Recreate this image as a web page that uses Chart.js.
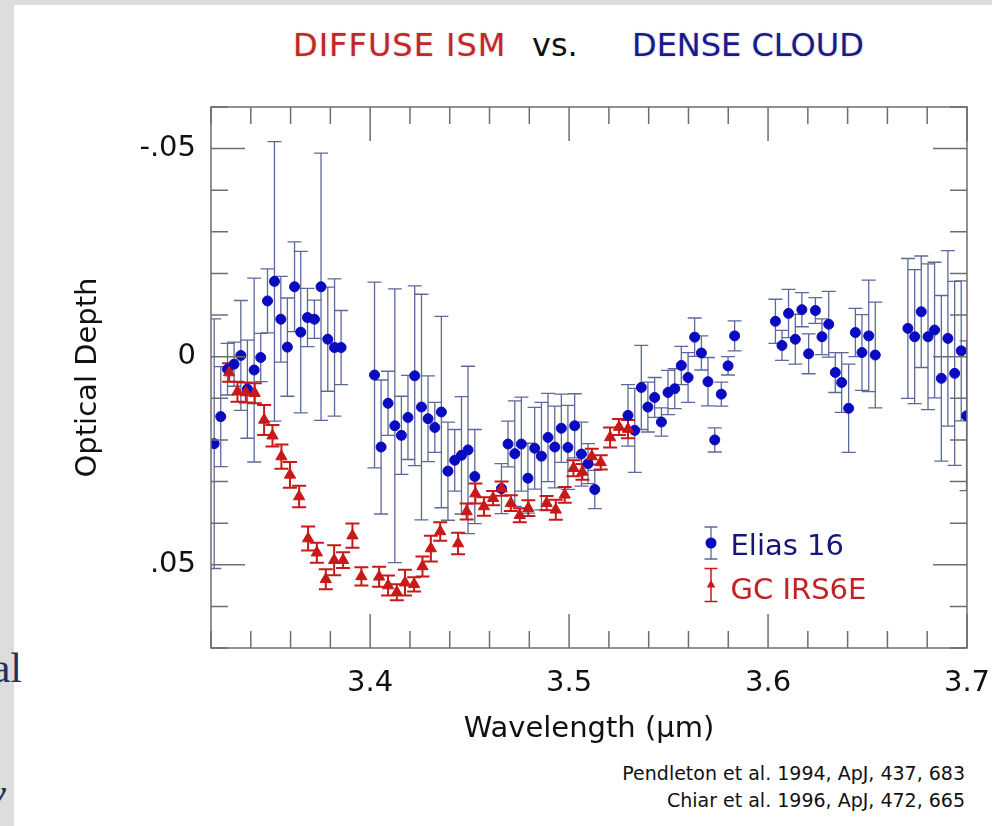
<!DOCTYPE html>
<html>
<head>
<meta charset="utf-8">
<script src="https://cdn.jsdelivr.net/npm/chart.js@4.4.1/dist/chart.umd.min.js"></script>
<style>
  html, body { margin: 0; padding: 0; }
  body { width: 992px; height: 826px; background: #dddddd; position: relative; overflow: hidden; font-family: "DejaVu Sans", sans-serif; }
  #sheet { position: absolute; left: 14px; top: 5px; right: 0; bottom: 0; background: #fff; }
  #chart { position: absolute; left: 0; top: 0; }
  .head { position: absolute; top: 29px; font-size: 32px; line-height: 1; white-space: nowrap; }
  .cite { position: absolute; right: 27px; font-size: 19px; line-height: 1; color: #111; white-space: nowrap; }
  .edge { position: absolute; right: 970px; font-family: "Liberation Serif", serif; color: #1f2f5f; font-size: 42px; line-height: 1; white-space: nowrap; }
</style>
</head>
<body>
<div id="sheet"></div>
<div class="edge" style="top:647px">al</div>
<div class="edge" style="top:772px; right:986px; font-style:italic">y</div>

<div class="head" style="left:293px; letter-spacing:1px; color:#c0282c; text-shadow:0 0 2px rgba(200,40,40,.35)">DIFFUSE ISM</div>
<div class="head" style="left:532px; color:#111">vs.</div>
<div class="head" style="left:632px; color:#1a1a8a; text-shadow:0 0 2px rgba(30,30,140,.3)">DENSE CLOUD</div>

<div class="cite" style="top:764px">Pendleton et al. 1994, ApJ, 437, 683</div>
<div class="cite" style="top:791px">Chiar et al. 1996, ApJ, 472, 665</div>

<canvas id="chart" width="992" height="826"></canvas>

<script>
// Elias 16 (dense cloud)
const eliasWave = [
  3.3216, 3.3249, 3.3283, 3.3316, 3.3350, 3.3383, 3.3417, 3.3450, 3.3484, 3.3519,
  3.3551, 3.3584, 3.3620, 3.3651, 3.3685, 3.3720, 3.3753, 3.3787, 3.3821, 3.3854,
  3.4022, 3.4055, 3.4090, 3.4124, 3.4157, 3.4190, 3.4224, 3.4258, 3.4291, 3.4325,
  3.4358, 3.4391, 3.4425, 3.4459, 3.4492, 3.4526, 3.4660, 3.4693, 3.4727, 3.4760,
  3.4793, 3.4827, 3.4861, 3.4894, 3.4928, 3.4961, 3.4994, 3.5028, 3.5062, 3.5095, 3.5129,
  3.5296, 3.5330, 3.5363, 3.5396, 3.5430, 3.5464, 3.5497, 3.5531, 3.5564, 3.5598,
  3.5631, 3.5665, 3.5698, 3.5732, 3.5765, 3.5799, 3.5832,
  3.6037, 3.6070, 3.6103, 3.6137, 3.6170, 3.6204, 3.6238, 3.6271, 3.6305, 3.6338,
  3.6370, 3.6405, 3.6439, 3.6472, 3.6506, 3.6539,
  3.6703, 3.6737, 3.6770, 3.6804, 3.6837, 3.6871, 3.6904, 3.6938, 3.6971, 3.6998
];
const eliasDepth = [
  0.0209, 0.0144, 0.0030, 0.0018, -0.0003, 0.0078, 0.0032, 0.0002, -0.0134, -0.0181,
  -0.0090, -0.0023, -0.0168, -0.0059, -0.0094, -0.0090, -0.0168, -0.0042, -0.0022, -0.0022,
  0.0044, 0.0217, 0.0112, 0.0166, 0.0189, 0.0146, 0.0046, 0.0121, 0.0149, 0.0170,
  0.0133, 0.0275, 0.0249, 0.0237, 0.0224, 0.0288, 0.0317, 0.0210, 0.0233, 0.0210,
  0.0292, 0.0220, 0.0239, 0.0194, 0.0217, 0.0172, 0.0218, 0.0166, 0.0234, 0.0257, 0.0319,
  0.0141, 0.0177, 0.0074, 0.0121, 0.0098, 0.0157, 0.0086, 0.0077, 0.0021, 0.0050,
  -0.0047, -0.0009, 0.0060, 0.0200, 0.0090, 0.0022, -0.0050,
  -0.0085, -0.0027, -0.0104, -0.0042, -0.0113, -0.0007, -0.0111, -0.0048, -0.0078, 0.0038,
  0.0062, 0.0124, -0.0058, -0.0010, -0.0050, -0.0004,
  -0.0068, -0.0048, -0.0108, -0.0048, -0.0064, 0.0052, -0.0044, 0.0040, -0.0014, 0.0142
];
const eliasErr = [
  0.0300, 0.0120, 0.0062, 0.0053, 0.0132, 0.0118, 0.0221, 0.0058, 0.0077, 0.0336,
  0.0103, 0.0118, 0.0108, 0.0194, 0.0070, 0.0046, 0.0321, 0.0125, 0.0165, 0.0089,
  0.0223, 0.0161, 0.0077, 0.0329, 0.0094, 0.0101, 0.0216, 0.0271, 0.0103, 0.0060,
  0.0230, 0.0118, 0.0074, 0.0141, 0.0201, 0.0113, 0.0060, 0.0055, 0.0127, 0.0113,
  0.0084, 0.0098, 0.0129, 0.0106, 0.0098, 0.0082, 0.0101, 0.0077, 0.0077, 0.0048, 0.0046,
  0.0074, 0.0101, 0.0101, 0.0060, 0.0048, 0.0034, 0.0053, 0.0048, 0.0046, 0.0060,
  0.0046, 0.0041, 0.0058, 0.0029, 0.0029, 0.0022, 0.0036,
  0.0053, 0.0036, 0.0058, 0.0060, 0.0041, 0.0048, 0.0031, 0.0043, 0.0079, 0.0048,
  0.0072, 0.0106, 0.0058, 0.0091, 0.0134, 0.0127,
  0.0168, 0.0161, 0.0134, 0.0175, 0.0163, 0.0199, 0.0211, 0.0221, 0.0168, 0.0180
];

// GC IRS6E (diffuse ISM)
const irsWave = [
  3.3291, 3.3333, 3.3375, 3.3420, 3.3467, 3.3509, 3.3554, 3.3597, 3.3643, 3.3688,
  3.3732, 3.3777, 3.3819, 3.3864, 3.3911, 3.3956, 3.4045, 3.4090, 3.4134, 3.4175,
  3.4221, 3.4263, 3.4305, 3.4352, 3.4442, 3.4485, 3.4529, 3.4572, 3.4618, 3.4661,
  3.4707, 3.4752, 3.4795, 3.4887, 3.4933, 3.4978, 3.5022, 3.5067, 3.5114, 3.5159,
  3.5206, 3.5251, 3.5296
];
const irsDepth = [
  0.0038, 0.0084, 0.0086, 0.0088, 0.0152, 0.0190, 0.0240, 0.0284, 0.0336, 0.0437,
  0.0471, 0.0535, 0.0489, 0.0489, 0.0430, 0.0528, 0.0529, 0.0550, 0.0566, 0.0543,
  0.0547, 0.0504, 0.0461, 0.0420, 0.0449, 0.0372, 0.0329, 0.0360, 0.0340, 0.0317,
  0.0352, 0.0381, 0.0364, 0.0352, 0.0368, 0.0332, 0.0268, 0.0277, 0.0240, 0.0254,
  0.0194, 0.0169, 0.0174
];
const irsErr = [
  0.0022, 0.0024, 0.0024, 0.0024, 0.0036, 0.0026, 0.0029, 0.0031, 0.0026, 0.0029,
  0.0024, 0.0024, 0.0036, 0.0019, 0.0029, 0.0022, 0.0024, 0.0024, 0.0019, 0.0031,
  0.0017, 0.0024, 0.0031, 0.0022, 0.0026, 0.0019, 0.0024, 0.0022, 0.0017, 0.0017,
  0.0019, 0.0017, 0.0019, 0.0017, 0.0024, 0.0019, 0.0019, 0.0019, 0.0019, 0.0017,
  0.0024, 0.0019, 0.0022
];

// labelled ticks
const waveLabels = [3.4, 3.5, 3.6, 3.7];
const depthLabels = [-0.05, 0, 0.05];
const depthLabelText = ['-.05', '0', '.05'];

const BLUE = '#0a0ac0';
const RED = '#c81818';
const FONT = '"DejaVu Sans", sans-serif';

const pts = (xs, ys) => xs.map((x, i) => ({ x: x, y: ys[i] }));
const near = (v, list) => list.findIndex(t => Math.abs(t - v) < 1e-6);

// vertical error bars with caps, under the markers
const errorBars = {
  id: 'errorBars',
  beforeDatasetsDraw(chart) {
    const { ctx, chartArea: a, scales: { x, y } } = chart;
    ctx.save();
    ctx.beginPath();
    ctx.rect(a.left, a.top, a.right - a.left, a.bottom - a.top);
    ctx.clip();
    chart.data.datasets.forEach(ds => {
      ctx.strokeStyle = ds.errColor;
      ctx.lineWidth = ds.errWidth;
      ds.data.forEach((p, i) => {
        const px = x.getPixelForValue(p.x);
        const y1 = y.getPixelForValue(p.y - ds.errors[i]);
        const y2 = y.getPixelForValue(p.y + ds.errors[i]);
        const c = ds.capHalf;
        ctx.beginPath();
        ctx.moveTo(px, y1); ctx.lineTo(px, y2);
        ctx.moveTo(px - c, y1); ctx.lineTo(px + c, y1);
        ctx.moveTo(px - c, y2); ctx.lineTo(px + c, y2);
        ctx.stroke();
      });
    });
    ctx.restore();
  }
};

// boxed frame with inward ticks on all four sides
const frameTicks = {
  id: 'frameTicks',
  afterDatasetsDraw(chart) {
    const { ctx, chartArea: a, scales: { x, y } } = chart;
    ctx.save();
    ctx.strokeStyle = '#6e6e6e';
    ctx.lineWidth = 1.5;
    ctx.strokeRect(a.left, a.top, a.right - a.left, a.bottom - a.top);
    ctx.beginPath();
    x.ticks.forEach(t => {
      const px = x.getPixelForValue(t.value);
      const len = near(t.value, waveLabels) >= 0 ? 34 : 17;
      ctx.moveTo(px, a.bottom); ctx.lineTo(px, a.bottom - len);
      ctx.moveTo(px, a.top); ctx.lineTo(px, a.top + len);
    });
    y.ticks.forEach(t => {
      const py = y.getPixelForValue(t.value);
      const len = near(t.value, depthLabels) >= 0 ? 34 : 17;
      ctx.moveTo(a.left, py); ctx.lineTo(a.left + len, py);
      ctx.moveTo(a.right, py); ctx.lineTo(a.right - len, py);
    });
    ctx.stroke();
    ctx.restore();
  }
};

// legend box in the lower right of the plot
const insetLegend = {
  id: 'insetLegend',
  afterDraw(chart) {
    const { ctx, chartArea: a } = chart;
    const mx = a.right - 256;
    const rows = [
      { dy: -105, half: 16, bar: '#5d6a99', bw: 1.3, color: BLUE, text: 'Elias 16', tc: '#16167a', shape: 'circle' },
      { dy: -63, half: 16.5, bar: RED, bw: 1.5, color: RED, text: 'GC IRS6E', tc: '#c42222', shape: 'triangle' }
    ];
    ctx.save();
    rows.forEach(r => {
      const my = a.bottom + r.dy;
      ctx.strokeStyle = r.bar;
      ctx.lineWidth = r.bw;
      ctx.beginPath();
      ctx.moveTo(mx, my - r.half); ctx.lineTo(mx, my + r.half);
      ctx.moveTo(mx - 6.5, my - r.half); ctx.lineTo(mx + 6.5, my - r.half);
      ctx.moveTo(mx - 6.5, my + r.half); ctx.lineTo(mx + 6.5, my + r.half);
      ctx.stroke();
      ctx.fillStyle = r.color;
      ctx.beginPath();
      if (r.shape === 'circle') {
        ctx.arc(mx, my, 5.5, 0, Math.PI * 2);
      } else {
        ctx.moveTo(mx, my - 5); ctx.lineTo(mx + 4.3, my + 2.5); ctx.lineTo(mx - 4.3, my + 2.5);
        ctx.closePath();
      }
      ctx.fill();
      ctx.fillStyle = r.tc;
      ctx.font = '29px ' + FONT;
      ctx.textBaseline = 'alphabetic';
      ctx.fillText(r.text, mx + 19.5, my + (r.shape === 'circle' ? 11.7 : 14));
    });
    ctx.restore();
  }
};

Chart.defaults.font.family = FONT;

new Chart(document.getElementById('chart'), {
  type: 'scatter',
  data: {
    datasets: [
      {
        label: 'Elias 16',
        data: pts(eliasWave, eliasDepth),
        errors: eliasErr,
        errColor: '#5d6a99', errWidth: 1.3, capHalf: 7,
        pointStyle: 'circle', pointRadius: 5, pointBorderWidth: 1,
        backgroundColor: BLUE, borderColor: BLUE,
        order: 1, clip: 0
      },
      {
        label: 'GC IRS6E',
        data: pts(irsWave, irsDepth),
        errors: irsErr,
        errColor: RED, errWidth: 2, capHalf: 7,
        pointStyle: 'triangle', pointRadius: 6.5, pointBorderWidth: 1,
        backgroundColor: RED, borderColor: RED,
        order: 0, clip: 0
      }
    ]
  },
  options: {
    responsive: false,
    animation: false,
    devicePixelRatio: 1,
    layout: { padding: { top: 107, right: 25, bottom: 0, left: 0 } },
    plugins: { legend: { display: false }, tooltip: { enabled: false } },
    scales: {
      x: {
        type: 'linear', position: 'bottom', min: 3.32, max: 3.70,
        grid: { display: false, drawTicks: false }, border: { display: false },
        ticks: {
          stepSize: 0.02, autoSkip: false, maxRotation: 0, padding: 18,
          color: '#111', font: { size: 29 },
          callback: v => near(v, waveLabels) >= 0 ? v.toFixed(1) : ''
        },
        title: { display: true, text: 'Wavelength (µm)', color: '#111', font: { size: 29 }, padding: { top: 0, bottom: 79 } },
        // fixed axis band; the "3.7" label may overhang into the right margin
        afterFit: s => { s.height = 178; s.paddingLeft = 0; s.paddingRight = 0; }
      },
      y: {
        type: 'linear', position: 'left', min: -0.06, max: 0.07, reverse: true,
        grid: { display: false, drawTicks: false }, border: { display: false },
        ticks: {
          stepSize: 0.01, autoSkip: false, padding: 15,
          color: '#111', font: { size: 29 },
          callback: v => { const k = near(v, depthLabels); return k >= 0 ? depthLabelText[k] : ''; }
        },
        title: { display: true, text: 'Optical Depth', color: '#111', font: { size: 29 }, padding: { top: 71, bottom: 0 } },
        afterFit: s => { s.width = 211; s.paddingTop = 0; s.paddingBottom = 0; }
      }
    }
  },
  plugins: [errorBars, frameTicks, insetLegend]
});
</script>
</body>
</html>
